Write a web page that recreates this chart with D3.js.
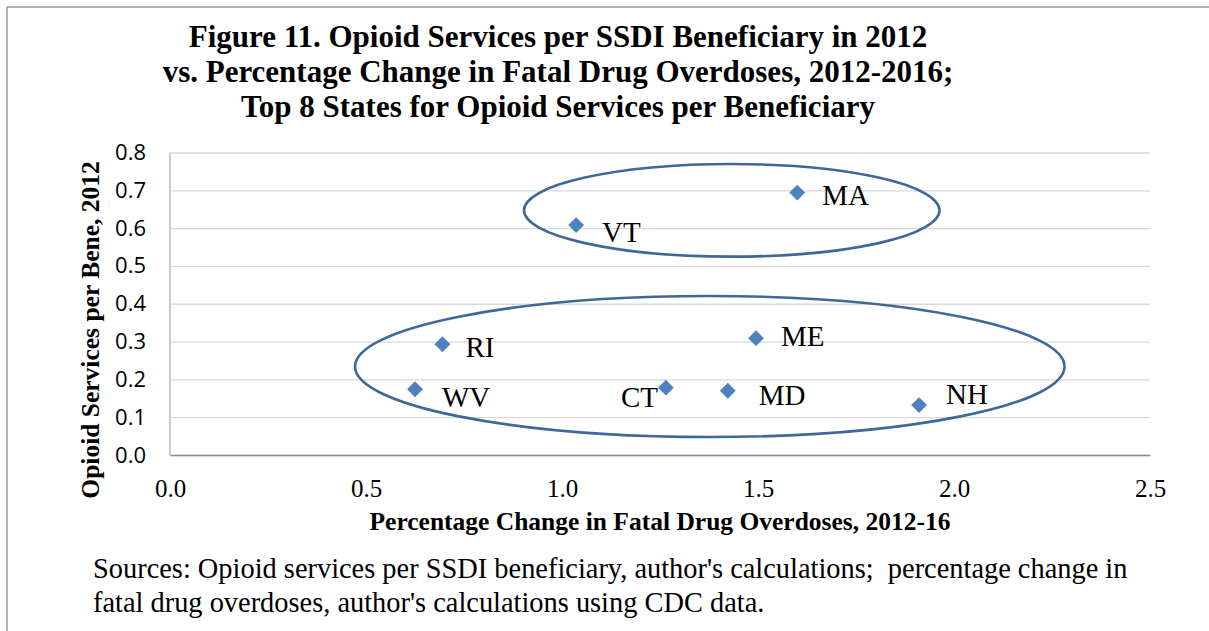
<!DOCTYPE html>
<html>
<head>
<meta charset="utf-8">
<script src="https://cdn.jsdelivr.net/npm/d3@7"></script>
<style>
  html, body { margin: 0; padding: 0; background: #fff; }
  svg { display: block; }
</style>
</head>
<body>
<svg id="chart" width="1209" height="631"></svg>
<script>
// ---- data ----
const states = ["MA", "VT", "RI", "WV", "CT", "MD", "ME", "NH"];
const pctChange = [1.60, 1.036, 0.695, 0.625, 1.265, 1.423, 1.495, 1.911];
const servicesPerBene = [0.694, 0.608, 0.293, 0.174, 0.178, 0.170, 0.309, 0.132];
const xTicks = [0.0, 0.5, 1.0, 1.5, 2.0, 2.5];
const yTicks = [0.0, 0.1, 0.2, 0.3, 0.4, 0.5, 0.6, 0.7, 0.8];
// highlighted groups (ellipses) in data units: centre x, centre y, radius x, radius y
const groupCx = [1.433, 1.377];
const groupCy = [0.647, 0.234];
const groupRx = [0.530, 0.905];
const groupRy = [0.1225, 0.1865];

const titleLines = [
  "Figure 11. Opioid Services per SSDI Beneficiary in 2012",
  "vs. Percentage Change in Fatal Drug Overdoses, 2012-2016;",
  "Top 8 States for Opioid Services per Beneficiary"
];
const xTitle = "Percentage Change in Fatal Drug Overdoses, 2012-16";
const yTitle = "Opioid Services per Bene, 2012";
const sourceLines = [
  "Sources: Opioid services per SSDI beneficiary, author's calculations;\u00a0 percentage change in",
  "fatal drug overdoses, author's calculations using CDC data."
];

// ---- label placement (style, px offsets from the marker) ----
const labelOffset = {
  MA: [25, 12], VT: [26, 17], RI: [23, 13], WV: [27, 18],
  CT: [-45, 19], MD: [31, 14], ME: [25, 8], NH: [27, -1]
};

// ---- layout ----
const svg = d3.select("#chart");
const plot = { left: 170, right: 1150, top: 152.5, bottom: 455 };
const serif = "'Liberation Serif', 'Times New Roman', serif";
const sans = "'Open Sans', 'Liberation Sans', sans-serif";

const x = d3.scaleLinear().domain([0, 2.5]).range([plot.left, plot.right]);
const y = d3.scaleLinear().domain([0, 0.8]).range([plot.bottom, plot.top]);

// frame (top and left edges visible)
svg.append("line").attr("x1", 7).attr("x2", 1209).attr("y1", 7).attr("y2", 7)
  .attr("stroke", "#9a9a9a").attr("stroke-width", 1.5);
svg.append("line").attr("x1", 7).attr("x2", 7).attr("y1", 7).attr("y2", 631)
  .attr("stroke", "#9a9a9a").attr("stroke-width", 1.5);

// title
svg.append("g").selectAll("text").data(titleLines).join("text")
  .attr("x", 558).attr("y", (d, i) => [47, 82, 117][i])
  .attr("text-anchor", "middle")
  .attr("font-family", serif).attr("font-weight", "bold").attr("font-size", 31)
  .attr("fill", "#000").text(d => d);

// gridlines + y axis
const yAxis = d3.axisLeft(y).tickValues(yTicks).tickSize(-(plot.right - plot.left)).tickFormat(d3.format(".1f")).tickPadding(24);
const gy = svg.append("g").attr("transform", `translate(${plot.left},0)`).call(yAxis);
gy.select(".domain").attr("stroke", "#a6a6a6").attr("stroke-width", 1.2)
  .attr("d", `M0,${plot.top}V${plot.bottom}`);
gy.selectAll(".tick line").attr("stroke", "#d9d9d9").attr("stroke-width", 1.3);
gy.selectAll(".tick text").attr("font-family", sans).attr("font-size", 22).attr("fill", "#000");

// x axis
const xAxis = d3.axisBottom(x).tickValues(xTicks).tickSize(0).tickFormat(d3.format(".1f")).tickPadding(24);
const gx = svg.append("g").attr("transform", `translate(0,${plot.bottom})`).call(xAxis);
gx.select(".domain").attr("stroke", "#8c8c8c").attr("stroke-width", 1.3);
gx.selectAll(".tick text").attr("font-family", serif).attr("font-size", 25).attr("fill", "#000");

// axis titles
svg.append("text").attr("x", 660).attr("y", 530).attr("text-anchor", "middle")
  .attr("font-family", serif).attr("font-weight", "bold").attr("font-size", 25.5)
  .text(xTitle);
svg.append("text").attr("transform", "translate(99,330) rotate(-90)").attr("text-anchor", "middle")
  .attr("font-family", serif).attr("font-weight", "bold").attr("font-size", 25.5)
  .text(yTitle);

// ellipses
svg.append("g").selectAll("ellipse").data(groupCx).join("ellipse")
  .attr("cx", (d, i) => x(groupCx[i]))
  .attr("cy", (d, i) => y(groupCy[i]))
  .attr("rx", (d, i) => x(groupRx[i]) - x(0))
  .attr("ry", (d, i) => y(0) - y(groupRy[i]))
  .attr("fill", "none").attr("stroke", "#3f6797").attr("stroke-width", 2.6);

// markers
const diamond = d3.symbol().type(d3.symbolDiamond2).size(160);
svg.append("g").selectAll("path").data(states).join("path")
  .attr("transform", (d, i) => `translate(${x(pctChange[i])},${y(servicesPerBene[i])})`)
  .attr("d", diamond)
  .attr("fill", "#4f81bd");

// data labels
svg.append("g").selectAll("text").data(states).join("text")
  .attr("x", (d, i) => x(pctChange[i]) + labelOffset[d][0])
  .attr("y", (d, i) => y(servicesPerBene[i]) + labelOffset[d][1])
  .attr("font-family", serif).attr("font-size", 29).attr("fill", "#000")
  .text(d => d);

// sources note
svg.append("g").selectAll("text").data(sourceLines).join("text")
  .attr("x", 93).attr("y", (d, i) => [578, 611.5][i])
  .attr("font-family", serif).attr("font-size", 28.4).attr("fill", "#000")
  .text(d => d);
</script>
</body>
</html>
